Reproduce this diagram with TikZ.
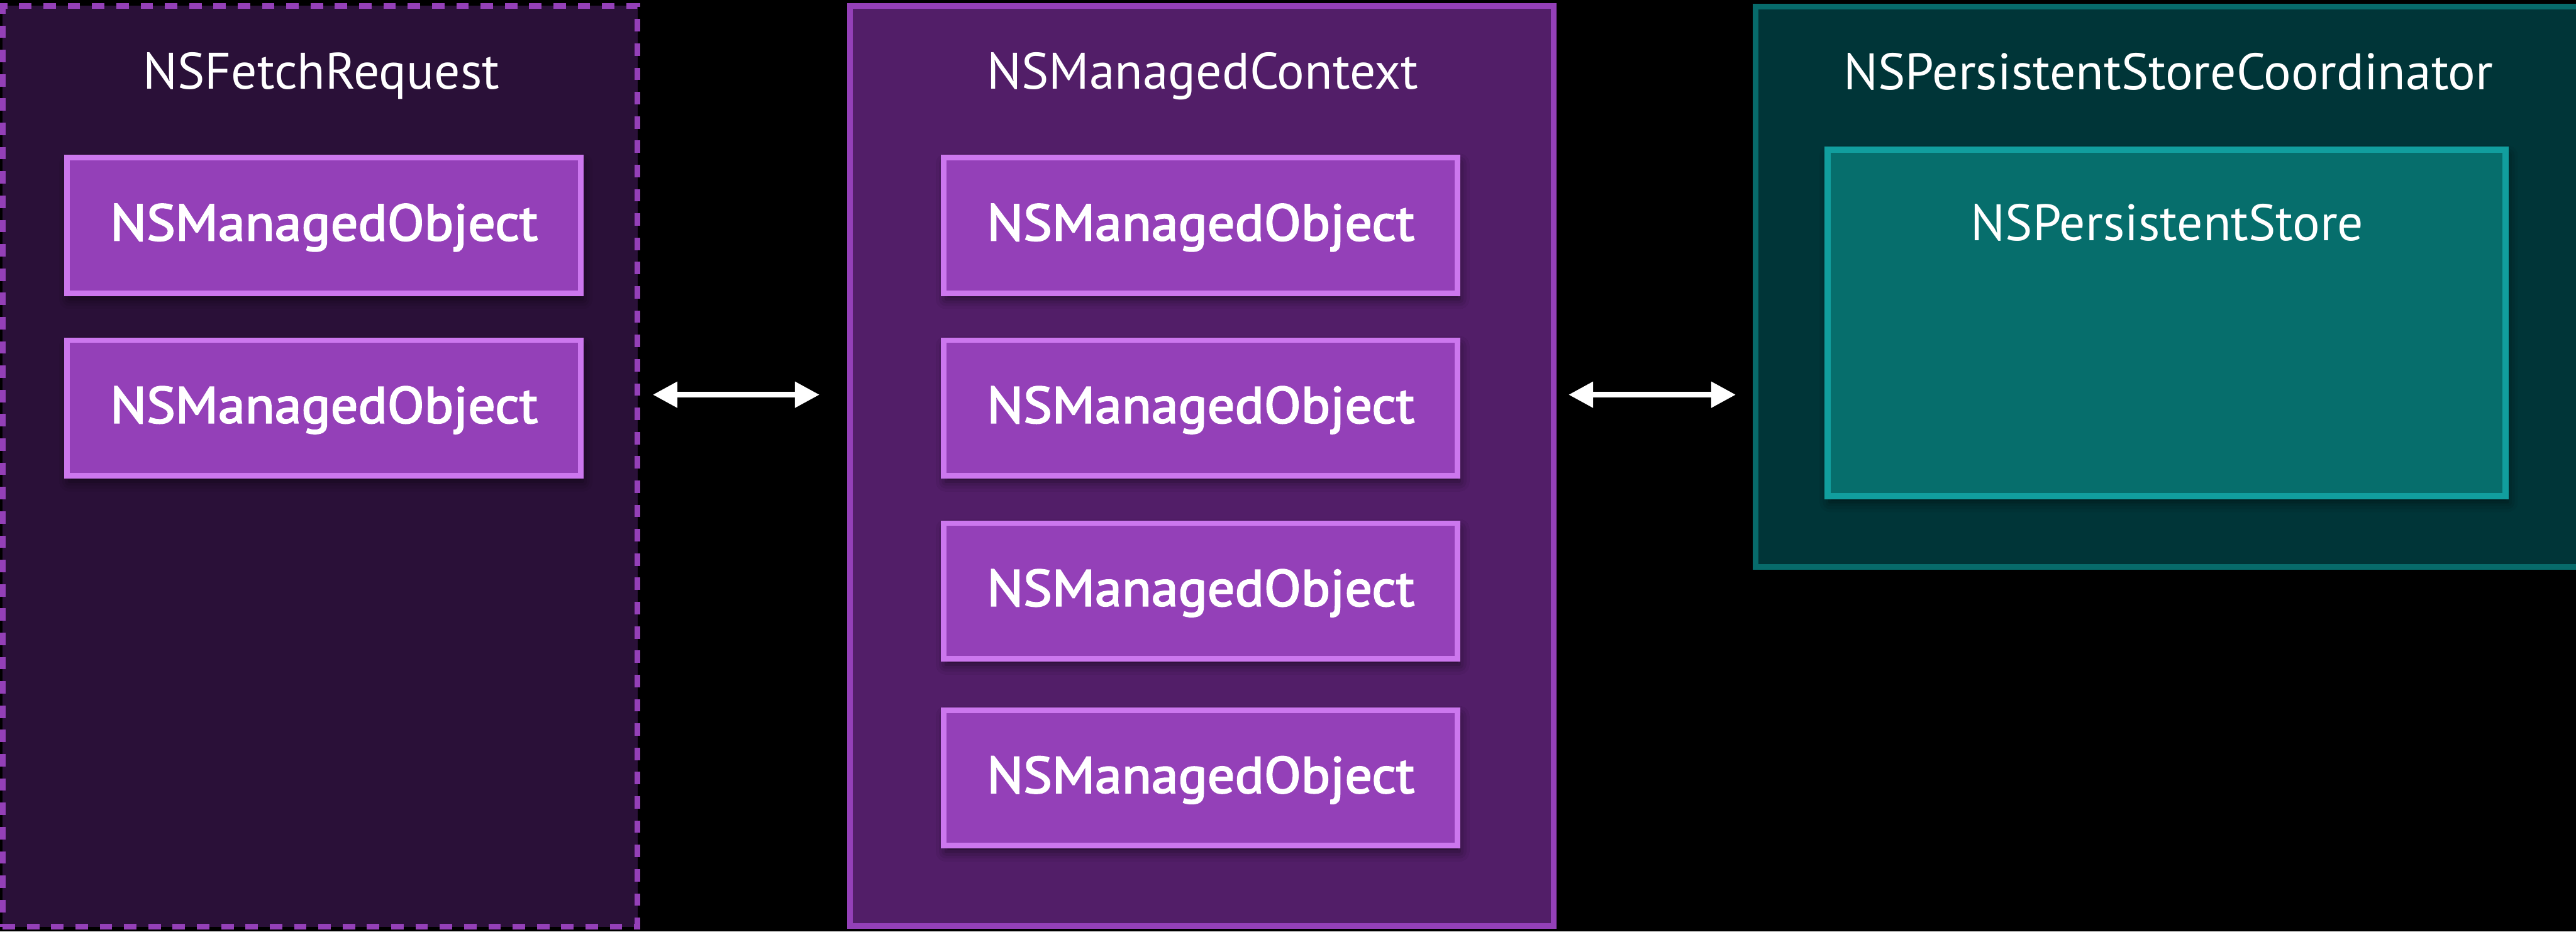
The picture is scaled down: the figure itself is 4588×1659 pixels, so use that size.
\documentclass[tikz,border=0pt]{standalone}
\usepackage{fontspec}
\setmainfont{PT Sans}
\newfontfamily\objfont{PT Sans}[FakeBold=2.6,FakeStretch=1.055]
\usetikzlibrary{arrows.meta,shadows.blur}

\definecolor{fetchfill}{HTML}{2A1038}
\definecolor{ctxfill}{HTML}{521E68}
\definecolor{purpleline}{HTML}{9440B8}
\definecolor{objline}{HTML}{CC77EE}
\definecolor{coordfill}{HTML}{003538}
\definecolor{coordline}{HTML}{076B6B}
\definecolor{storefill}{HTML}{066E6C}
\definecolor{storeline}{HTML}{119E9E}

\begin{document}
\begin{tikzpicture}[x=0.01cm,y=-0.01cm,
  fetchbox/.style={draw=purpleline,fill=fetchfill,line width=2.85pt,dash pattern=on 6.3pt off 6pt,minimum width=11.3cm,minimum height=16.39cm},
  ctxbox/.style={draw=purpleline,fill=ctxfill,line width=2.85pt,minimum width=12.53cm,minimum height=16.38cm},
  coordbox/.style={draw=coordline,fill=coordfill,line width=2.85pt,minimum width=14.7cm,minimum height=9.97cm},
  storebox/.style={draw=storeline,fill=storefill,line width=3.1pt,minimum width=12.07cm,minimum height=6.17cm,
    blur shadow={shadow xshift=1pt,shadow yshift=-3pt,shadow blur radius=5pt,shadow opacity=60}},
  object/.style={draw=objline,fill=purpleline,line width=2.85pt,minimum width=9.14cm,minimum height=2.41cm,
    text=white,font=\objfont\fontsize{26}{30}\selectfont,text height=18.2pt,text depth=3pt,
    blur shadow={shadow xshift=1pt,shadow yshift=-3pt,shadow blur radius=5pt,shadow opacity=60}},
  title/.style={text=white,font=\fontsize{26}{30}\selectfont,anchor=base,inner sep=0pt},
  link/.style={white,line width=3pt,{Triangle[length=12.5pt,width=12.5pt]}-{Triangle[length=12.5pt,width=12.5pt]}}]
\useasboundingbox (0,0) rectangle (4588,1659);
\clip (0,0) rectangle (4588,1659);
\fill[black] (0,0) rectangle (4588,1659);

% the three containers
\node[fetchbox] (fetch) at (570,830.5) {};
\node[ctxbox] (context) at (2140.5,830) {};
\node[coordbox] (coordinator) at (3862,510.5) {};
\node[storebox] (store) at (3859,575) {};

\node[title] (fetchname) at (572,158) {NSFetchRequest};
\node[title] (contextname) at (2142,158) {NSManagedContext};
\node[title] (coordname) at (3862,160) {NSPersistentStoreCoordinator};
\node[title] (storename) at (3860,428) {NSPersistentStore};

% managed objects
\node[object] (fetchobj1) at (577,401.5) {NSManagedObject};
\node[object] (fetchobj2) at (577,726.5) {NSManagedObject};
\foreach \y [count=\i] in {401.5,726.5,1052.5,1385.5}
  \node[object] (ctxobj\i) at (2138.5,\y) {NSManagedObject};

% two-way links
\coordinate (arrowrow) at (0,703);
\draw[link,shorten <=6.3pt,shorten >=13.9pt] (fetch.east |- arrowrow) -- (context.west |- arrowrow);
\draw[link,shorten <=6pt,shorten >=8.5pt] (context.east |- arrowrow) -- (coordinator.west |- arrowrow);
\end{tikzpicture}
\end{document}
